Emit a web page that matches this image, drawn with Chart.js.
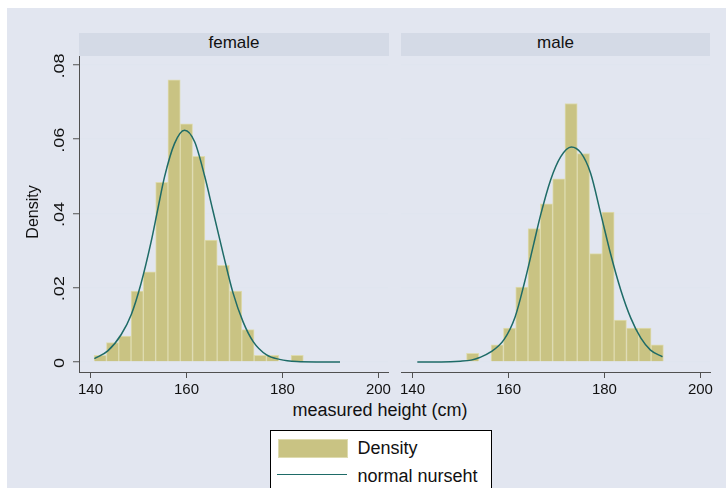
<!DOCTYPE html>
<html>
<head>
<meta charset="utf-8">
<script src="https://cdn.jsdelivr.net/npm/chart.js@4.4.1/dist/chart.umd.min.js"></script>
<style>
  html, body { margin: 0; padding: 0; background: #fff; }
  body { width: 726px; height: 488px; position: relative; overflow: hidden;
         font-family: "Liberation Sans", Arial, Helvetica, sans-serif; color: #111; }
  #region { position: absolute; left: 7px; top: 8px; right: 0; bottom: 0; background: #E2E6F0; }
  canvas { position: absolute; top: 0; }
  .strip { position: absolute; top: 33px; height: 23px; background: #D4DAE6;
           font-size: 17px; line-height: 19px; text-align: center; }
  .abs { position: absolute; white-space: nowrap; }
</style>
</head>
<body>
<div id="region"></div>
<div class="strip" id="strip0" style="left:79px; width:310px;"></div>
<div class="strip" id="strip1" style="left:401px; width:309px;"></div>
<canvas id="left" width="395" height="400" style="left:0"></canvas>
<canvas id="right" width="331" height="400" style="left:395px"></canvas>
<div class="abs" id="xtitle" style="left:0; width:760px; top:401px; font-size:18px; line-height:18px; text-align:center;"></div>
<div class="abs" style="left:270px; top:430px; width:222px; height:80px; background:#fff; border:1px solid #000; box-sizing:border-box;"></div>
<div class="abs" id="swatch" style="left:277.5px; top:439px; width:70px; height:19px; box-sizing:border-box;"></div>
<div class="abs" id="lineKey" style="left:277px; top:473.5px; width:70px; height:1.5px;"></div>
<div class="abs" id="key0" style="left:357.5px; top:439px; font-size:18px; line-height:18px;"></div>
<div class="abs" id="key1" style="left:357.5px; top:466.5px; font-size:18px; line-height:18px;"></div>
<script>
// panel labels and axis text
const PANELS = ['female', 'male'];
const X_TITLE = 'measured height (cm)';
const Y_TITLE = 'Density';
const LEGEND_LABELS = ['Density', 'normal nurseht'];

// axis ticks
const X_TICKS = [140, 160, 180, 200];
const Y_TICKS = [0, 0.02, 0.04, 0.06, 0.08];
const Y_TICK_LABELS = ['0', '.02', '.04', '.06', '.08'];

// histogram bins (centers, cm) and densities
const FEMALE_BIN_CENTERS = [142.03, 144.60, 147.16, 149.73, 152.29, 154.86, 157.42, 159.99, 162.55,
                            165.12, 167.68, 170.25, 172.81, 175.38, 177.94, 180.51, 183.07];
const FEMALE_DENSITY = [0.0018, 0.0052, 0.0070, 0.0191, 0.0243, 0.0484, 0.0760, 0.0641, 0.0554,
                        0.0328, 0.0260, 0.0191, 0.0087, 0.0018, 0.0018, 0, 0.0018];
const MALE_BIN_CENTERS = [152.53, 155.10, 157.66, 160.23, 162.79, 165.36, 167.92, 170.49,
                          173.05, 175.62, 178.18, 180.75, 183.31, 185.88, 188.44, 191.01];
const MALE_DENSITY = [0.0023, 0, 0.0046, 0.0091, 0.0202, 0.0359, 0.0426, 0.0493,
                      0.0696, 0.0561, 0.0292, 0.0404, 0.0113, 0.0091, 0.0091, 0.0046];

// normal curves, points
const FEMALE_CURVE_X = [140.8, 143.6, 146.4, 148.5, 150.5, 152.6, 154.0, 155.4, 157.5, 159.6,
                        161.7, 163.8, 165.5, 167.6, 169.7, 171.8, 173.9, 176.7, 179.4, 183.0, 187.0, 192.0];
const FEMALE_CURVE_Y = [0.0009, 0.0030, 0.0074, 0.0128, 0.0210, 0.0322, 0.0410, 0.0497, 0.0588, 0.0624,
                        0.0593, 0.0500, 0.0408, 0.0294, 0.0186, 0.0108, 0.0055, 0.0019, 0.0007, 0.0001, 0, 0];
const MALE_CURVE_X = [141.0, 146.0, 150.0, 152.2, 154.0, 156.3, 159.1, 161.4, 163.3, 165.3, 166.7, 168.8,
                      170.9, 173.1, 175.1, 177.1, 179.2, 181.3, 183.4, 185.5, 187.6, 189.6, 192.1];
const MALE_CURVE_Y = [0, 0, 0.0002, 0.0005, 0.0012, 0.0027, 0.0061, 0.0122, 0.0212, 0.0320, 0.0396, 0.0491,
                      0.0553, 0.0579, 0.0563, 0.0509, 0.0401, 0.0290, 0.0194, 0.0118, 0.0064, 0.0032, 0.0014];

// colours
const BAR = '#C9C383';
const BAR_EDGE = '#DEDBAF';
const LINE = '#1E6B67';
const GRID = '#E0E5EF';
const AXIS = '#505050';
const TEXT = '#111111';
const FONT = '"Liberation Sans", Arial, Helvetica, sans-serif';

document.getElementById('strip0').textContent = PANELS[0];
document.getElementById('strip1').textContent = PANELS[1];
document.getElementById('xtitle').textContent = X_TITLE;
document.getElementById('key0').textContent = LEGEND_LABELS[0];
document.getElementById('key1').textContent = LEGEND_LABELS[1];
const sw = document.getElementById('swatch');
sw.style.background = BAR;
sw.style.border = '1px solid ' + BAR_EDGE;
document.getElementById('lineKey').style.background = LINE;

// rotated y tick labels and y title (left panel only)
const yLabels = {
    id: 'yLabels',
    afterDraw(chart) {
        const ctx = chart.ctx;
        const y = chart.scales.y;
        ctx.save();
        ctx.fillStyle = TEXT;
        ctx.textAlign = 'center';
        ctx.textBaseline = 'alphabetic';
        ctx.font = '14.5px ' + FONT;
        Y_TICKS.forEach((v, i) => {
            ctx.save();
            ctx.translate(64, y.getPixelForValue(v) + 1);
            ctx.rotate(-Math.PI / 2);
            ctx.scale(1.25, 1); // the reference sets its vertical labels a little wider
            ctx.fillText(Y_TICK_LABELS[i], 0, 0);
            ctx.restore();
        });
        ctx.font = '16px ' + FONT;
        ctx.translate(37.5, 212);
        ctx.rotate(-Math.PI / 2);
        ctx.fillText(Y_TITLE, 0, 0);
        ctx.restore();
    }
};

function makePanel(id, centers, dens, cx, cy, showY, padding) {
    return new Chart(document.getElementById(id), {
        type: 'bar',
        data: {
            datasets: [{
                type: 'line',
                data: cx.map((x, i) => ({ x: x, y: cy[i] })),
                borderColor: LINE,
                borderWidth: 1.5,
                pointRadius: 0,
                tension: 0.4,
                cubicInterpolationMode: 'monotone',
                order: 0
            }, {
                type: 'bar',
                data: centers.map((x, i) => ({ x: x, y: dens[i] })),
                backgroundColor: BAR,
                borderColor: BAR_EDGE,
                borderWidth: 1,
                barPercentage: 1,
                categoryPercentage: 1,
                order: 1
            }]
        },
        options: {
            responsive: false,
            animation: false,
            devicePixelRatio: 1,
            layout: { padding: padding },
            plugins: { legend: { display: false }, tooltip: { enabled: false } },
            scales: {
                x: {
                    type: 'linear',
                    min: 137.6,
                    max: 202,
                    offset: false,
                    afterBuildTicks: s => { s.ticks = X_TICKS.map(v => ({ value: v })); },
                    afterFit: s => { s.height = 28; },
                    ticks: { font: { family: FONT, size: 15 }, color: TEXT, padding: 3, maxRotation: 0, autoSkip: false },
                    grid: { offset: false, drawOnChartArea: false, tickLength: 6, tickColor: AXIS, lineWidth: 1 },
                    border: { color: AXIS, width: 1 }
                },
                y: {
                    min: -0.0027,
                    max: 0.0824,
                    afterBuildTicks: s => { s.ticks = Y_TICKS.map(v => ({ value: v })); },
                    afterFit: s => { s.width = showY ? 79 : 0; },
                    ticks: { display: false },
                    grid: { color: GRID, lineWidth: 1.5, drawTicks: showY, tickLength: 6, tickColor: AXIS, tickWidth: 1 },
                    border: { display: showY, color: AXIS, width: 1 }
                }
            }
        },
        plugins: showY ? [yLabels] : []
    });
}

makePanel('left', FEMALE_BIN_CENTERS, FEMALE_DENSITY, FEMALE_CURVE_X, FEMALE_CURVE_Y, true,
          { top: 56, right: 7, left: 0, bottom: 0 });
makePanel('right', MALE_BIN_CENTERS, MALE_DENSITY, MALE_CURVE_X, MALE_CURVE_Y, false,
          { top: 56, right: 16, left: 6, bottom: 0 });
</script>
</body>
</html>
